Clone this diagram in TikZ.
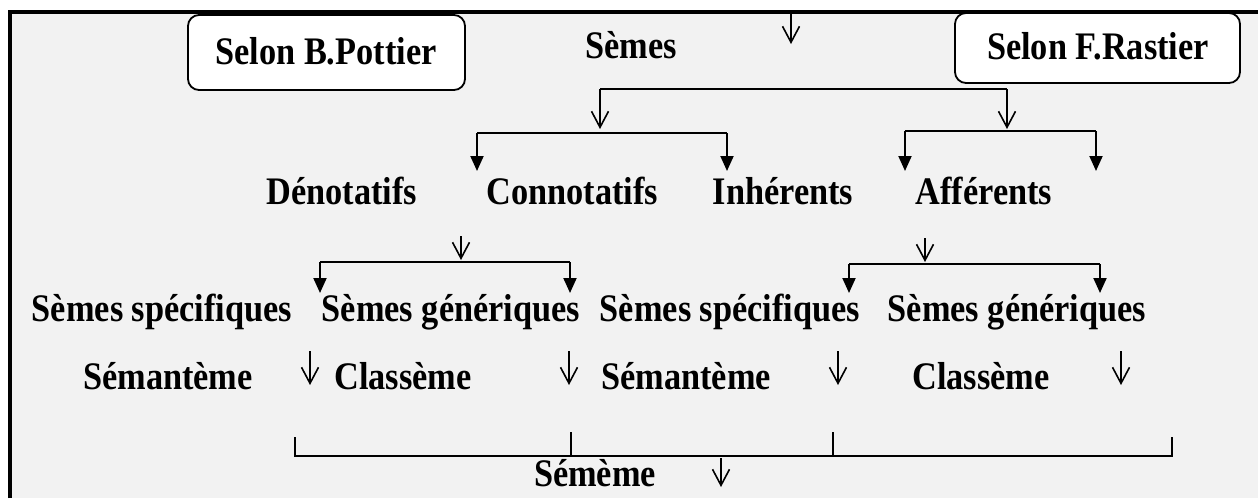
\documentclass[tikz,border=0pt]{standalone}
\usepackage{fontspec}
\setmainfont[FakeStretch=0.88]{Liberation Serif}
\usetikzlibrary{arrows.meta}
\definecolor{bgray}{HTML}{F2F2F2}
\begin{document}
\begin{tikzpicture}[x=1pt,y=-1pt,
  lbl/.style={font=\fontsize{39}{44}\selectfont\bfseries, inner sep=0pt, anchor=base},
  selonbox/.style={draw=black, line width=1.8pt, fill=white, rounded corners=11pt, inner sep=0pt},
  wire/.style={line width=1.8pt},
  openarr/.style={line width=1.6pt, -{Straight Barb[length=16pt,width=17pt]}},
  fillarr/.style={line width=2pt, -{Triangle[length=15pt,width=13pt]}},
  brk/.style={line width=2.4pt}
]
\useasboundingbox (0,0) rectangle (1258,498);
\fill[white] (0,0) rectangle (1258,498);
\fill[bgray] (9.5,11.5) rectangle (1258,498);
\draw[line width=4pt] (9.5,498) -- (9.5,11.5) -- (1258,11.5);

% header row
\node[selonbox, minimum width=277pt, minimum height=75pt] (pottier) at (326.5,52.5) {};
\node[lbl] (pottiert) at (326,64) {Selon B.Pottier};
\node[selonbox, minimum width=285pt, minimum height=70pt] (rastier) at (1097.5,48) {};
\node[lbl] (rastiert) at (1098,59) {Selon F.Rastier};
\node[lbl] (semes) at (631,58) {Sèmes};
\coordinate (s0) at (791,13); \coordinate (s1) at (791,44);
\draw[openarr] (s0) -- (s1);

% row 2
\node[lbl] (denot) at (342,204) {Dénotatifs};
\node[lbl] (connot) at (572.5,204) {Connotatifs};
\node[lbl] (inher) at (783,204) {Inhérents};
\node[lbl] (affer) at (984,204) {Afférents};

% top tree
\coordinate (a0) at (600,89); \coordinate (a1) at (1007,89);
\coordinate (a0t) at (600,129); \coordinate (a1t) at (1007,129);
\draw[wire] (a0) -- (a1);
\draw[openarr] (a0) -- (a0t);
\draw[openarr] (a1) -- (a1t);

\coordinate (g1l) at (477,133); \coordinate (g1r) at (727,133);
\coordinate (g1lt) at (477,171); \coordinate (g1rt) at (727,171);
\draw[wire] (g1l) -- (g1r);
\draw[fillarr] (g1l) -- (g1lt);
\draw[fillarr] (g1r) -- (g1rt);

\coordinate (g2l) at (905,131); \coordinate (g2r) at (1096,131);
\coordinate (g2lt) at (905,171); \coordinate (g2rt) at (1096,171);
\draw[wire] (g2l) -- (g2r);
\draw[fillarr] (g2l) -- (g2lt);
\draw[fillarr] (g2r) -- (g2rt);

% row 3
\node[lbl] (spec1) at (162,321) {Sèmes spécifiques};
\node[lbl] (gen1) at (451,321) {Sèmes génériques};
\node[lbl] (spec2) at (730,321) {Sèmes spécifiques};
\node[lbl] (gen2) at (1017,321) {Sèmes génériques};

\coordinate (b0) at (461,236); \coordinate (b0t) at (461,260);
\draw[openarr] (b0) -- (b0t);
\coordinate (h1l) at (320,262); \coordinate (h1r) at (570,262);
\coordinate (h1lt) at (320,293); \coordinate (h1rt) at (570,293);
\draw[wire] (h1l) -- (h1r);
\draw[fillarr] (h1l) -- (h1lt);
\draw[fillarr] (h1r) -- (h1rt);

\coordinate (b1) at (925,238); \coordinate (b1t) at (925,262);
\draw[openarr] (b1) -- (b1t);
\coordinate (h2l) at (849,264); \coordinate (h2r) at (1100,264);
\coordinate (h2lt) at (849,293); \coordinate (h2rt) at (1100,293);
\draw[wire] (h2l) -- (h2r);
\draw[fillarr] (h2l) -- (h2lt);
\draw[fillarr] (h2r) -- (h2rt);

% row 4
\node[lbl] (sman1) at (168,389) {Sémantème};
\node[lbl] (clas1) at (403,389) {Classème};
\node[lbl] (sman2) at (686,389) {Sémantème};
\node[lbl] (clas2) at (981,389) {Classème};

\foreach \x/\n in {310/r1,569/r2,838/r3,1121/r4}{
  \coordinate (\n a) at (\x,351); \coordinate (\n b) at (\x,385);
  \draw[openarr] (\n a) -- (\n b);
}

% bracket
\coordinate (k1) at (295,437); \coordinate (k1b) at (295,456);
\coordinate (k4) at (1172,437); \coordinate (k4b) at (1172,456);
\coordinate (k2) at (571,432); \coordinate (k2b) at (571,456);
\coordinate (k3) at (833,432); \coordinate (k3b) at (833,456);
\draw[brk] (k1) -- (k1b) -- (k4b) -- (k4);
\draw[line width=1.6pt] (k2) -- (k2b);
\draw[line width=1.6pt] (k3) -- (k3b);

\node[lbl] (sememe) at (595,486) {Sémème};
\coordinate (m0) at (721,458); \coordinate (m1) at (721,487);
\draw[openarr] (m0) -- (m1);
\end{tikzpicture}
\end{document}
